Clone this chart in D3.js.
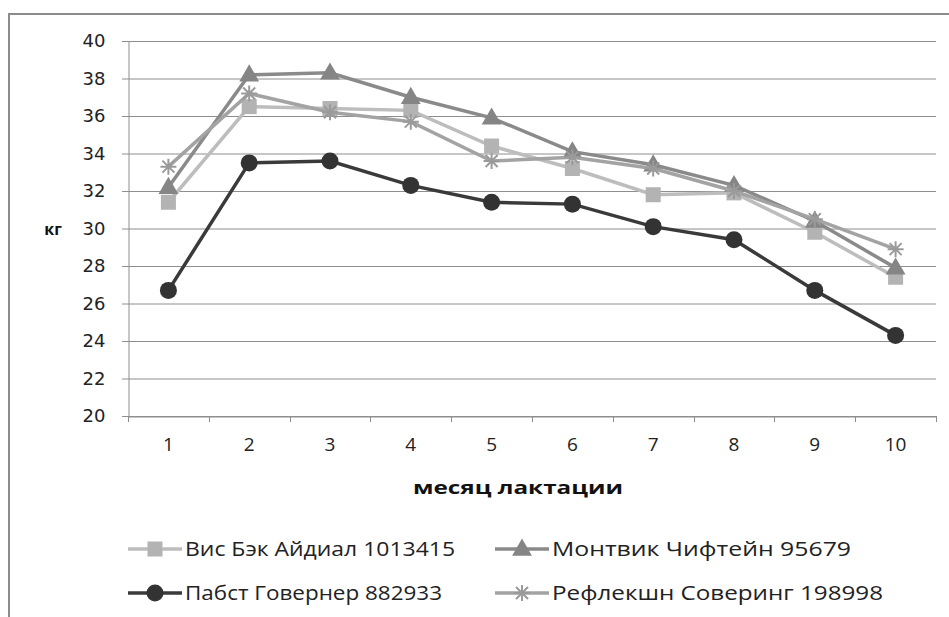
<!DOCTYPE html>
<html><head><meta charset="utf-8">
<script src="https://cdn.jsdelivr.net/npm/d3@7"></script>
<style>body{margin:0;background:#fff}svg{display:block}</style>
</head><body>
<svg id="c" width="949" height="617"></svg>
<script>
const months = [1,2,3,4,5,6,7,8,9,10];
const yTicks = [20,22,24,26,28,30,32,34,36,38,40];
const visBek   = [31.4,36.5,36.4,36.3,34.4,33.2,31.8,31.9,29.8,27.4];
const montvik  = [32.2,38.2,38.3,37.0,35.9,34.1,33.4,32.3,30.4,27.9];
const pabst    = [26.7,33.5,33.6,32.3,31.4,31.3,30.1,29.4,26.7,24.3];
const reflexn  = [33.3,37.2,36.2,35.7,33.6,33.8,33.2,32.0,30.5,28.9];
const seriesNames = ["Вис Бэк Айдиал 1013415","Монтвик Чифтейн 95679","Пабст Говернер 882933","Рефлекшн Соверинг 198998"];
const xTitle = "месяц лактации";
const yTitle = "кг";

const series = [
  {name: seriesNames[0], values: visBek,  line:"#bdbdbd", fill:"#b3b3b3", marker:"square",   tl:270},
  {name: seriesNames[1], values: montvik, line:"#8a8a8a", fill:"#858585", marker:"triangle", tl:299},
  {name: seriesNames[2], values: pabst,   line:"#3a3a3a", fill:"#333333", marker:"circle",   tl:257},
  {name: seriesNames[3], values: reflexn, line:"#a3a3a3", fill:"#9a9a9a", marker:"star",     tl:331}
];

const svg = d3.select("#c");
svg.append("rect").attr("x",9).attr("y",14).attr("width",1000).attr("height",700)
  .attr("fill","none").attr("stroke","#8c8c8c").attr("stroke-width",2);

const pL=128, pR=936, pT=41, pB=416;
const x = d3.scaleBand().domain(months).range([pL,pR]);
const y = d3.scaleLinear().domain([20,40]).range([pB,pT]);

svg.append("g").selectAll("line").data(yTicks).join("line")
  .attr("x1",pL-6).attr("x2",pR).attr("y1",d=>y(d)+0.5).attr("y2",d=>y(d)+0.5)
  .attr("stroke","#8e8e8e").attr("stroke-width",1);

const yAxis = d3.axisLeft(y).tickValues(yTicks).tickSize(0).tickPadding(23);
const gy = svg.append("g").attr("transform",`translate(${pL+0.5},0)`).call(yAxis);
gy.select(".domain").attr("stroke","#8e8e8e");
gy.selectAll("text").attr("font-family","DejaVu Sans").attr("font-size",18).attr("fill","#222");

const xAxis = d3.axisBottom(x).tickSize(0).tickPadding(21);
const gx = svg.append("g").attr("transform",`translate(0,${pB+0.5})`).call(xAxis);
gx.select(".domain").attr("stroke","#8e8e8e");
gx.selectAll("text").attr("font-family","Open Sans").attr("font-size",19).attr("fill","#222")
  .attr("transform","scale(1.1,1)")
  .attr("x",function(){return 0;});
gx.selectAll(".tick text").attr("transform",null);
const bounds = months.map(m=>x(m)).concat([pR]);
svg.append("g").selectAll("line").data(bounds).join("line")
  .attr("x1",d=>Math.round(d)+0.5).attr("x2",d=>Math.round(d)+0.5).attr("y1",pB).attr("y2",pB+6)
  .attr("stroke","#8e8e8e");

svg.append("text").attr("x",518).attr("y",494).attr("text-anchor","middle")
  .attr("font-family","Open Sans").attr("font-weight","bold").attr("font-size",18).attr("fill","#111")
  .attr("textLength",210).attr("lengthAdjust","spacingAndGlyphs")
  .text(xTitle);
svg.append("text").attr("x",53).attr("y",235).attr("text-anchor","middle")
  .attr("font-family","Open Sans").attr("font-weight","bold").attr("font-size",16).attr("fill","#111")
  .text(yTitle);

function drawMarker(g, type, fill, cx, cy){
  if(type==="square"){
    g.append("rect").attr("x",cx-7.5).attr("y",cy-7.5).attr("width",15).attr("height",15).attr("fill",fill);
  } else if(type==="circle"){
    g.append("circle").attr("cx",cx).attr("cy",cy).attr("r",8.5).attr("fill",fill);
  } else if(type==="triangle"){
    g.append("path").attr("d",d3.symbol(d3.symbolTriangle,170)()).attr("transform",`translate(${cx},${cy+1})`).attr("fill",fill);
  } else {
    const s=8;
    const p = `M${cx-s},${cy}H${cx+s}M${cx},${cy-s}V${cy+s}M${cx-s*0.75},${cy-s*0.75}L${cx+s*0.75},${cy+s*0.75}M${cx-s*0.75},${cy+s*0.75}L${cx+s*0.75},${cy-s*0.75}`;
    g.append("path").attr("d",p).attr("stroke",fill).attr("stroke-width",2).attr("fill","none");
  }
}

const line = d3.line().x((d,i)=>x(months[i])+x.bandwidth()/2).y(d=>y(d));
series.forEach(s=>{
  const g = svg.append("g");
  g.append("path").attr("d",line(s.values)).attr("fill","none").attr("stroke",s.line).attr("stroke-width",3.5);
  s.values.forEach((v,i)=>drawMarker(g,s.marker,s.fill,x(months[i])+x.bandwidth()/2,y(v)));
});

const legPos = [[155,549],[522,549],[155,593],[522,593]];
series.forEach((s,i)=>{
  const [cx,cy]=legPos[i];
  const g = svg.append("g");
  g.append("line").attr("x1",cx-27).attr("x2",cx+27).attr("y1",cy).attr("y2",cy).attr("stroke",s.line).attr("stroke-width",3.5);
  drawMarker(g,s.marker,s.fill,cx,cy);
  g.append("text").attr("x",cx+30).attr("y",cy+7).attr("font-family","Open Sans").attr("font-size",20).attr("fill","#222")
    .attr("textLength",s.tl).attr("lengthAdjust","spacingAndGlyphs").text(s.name);
});
</script>
</body></html>
